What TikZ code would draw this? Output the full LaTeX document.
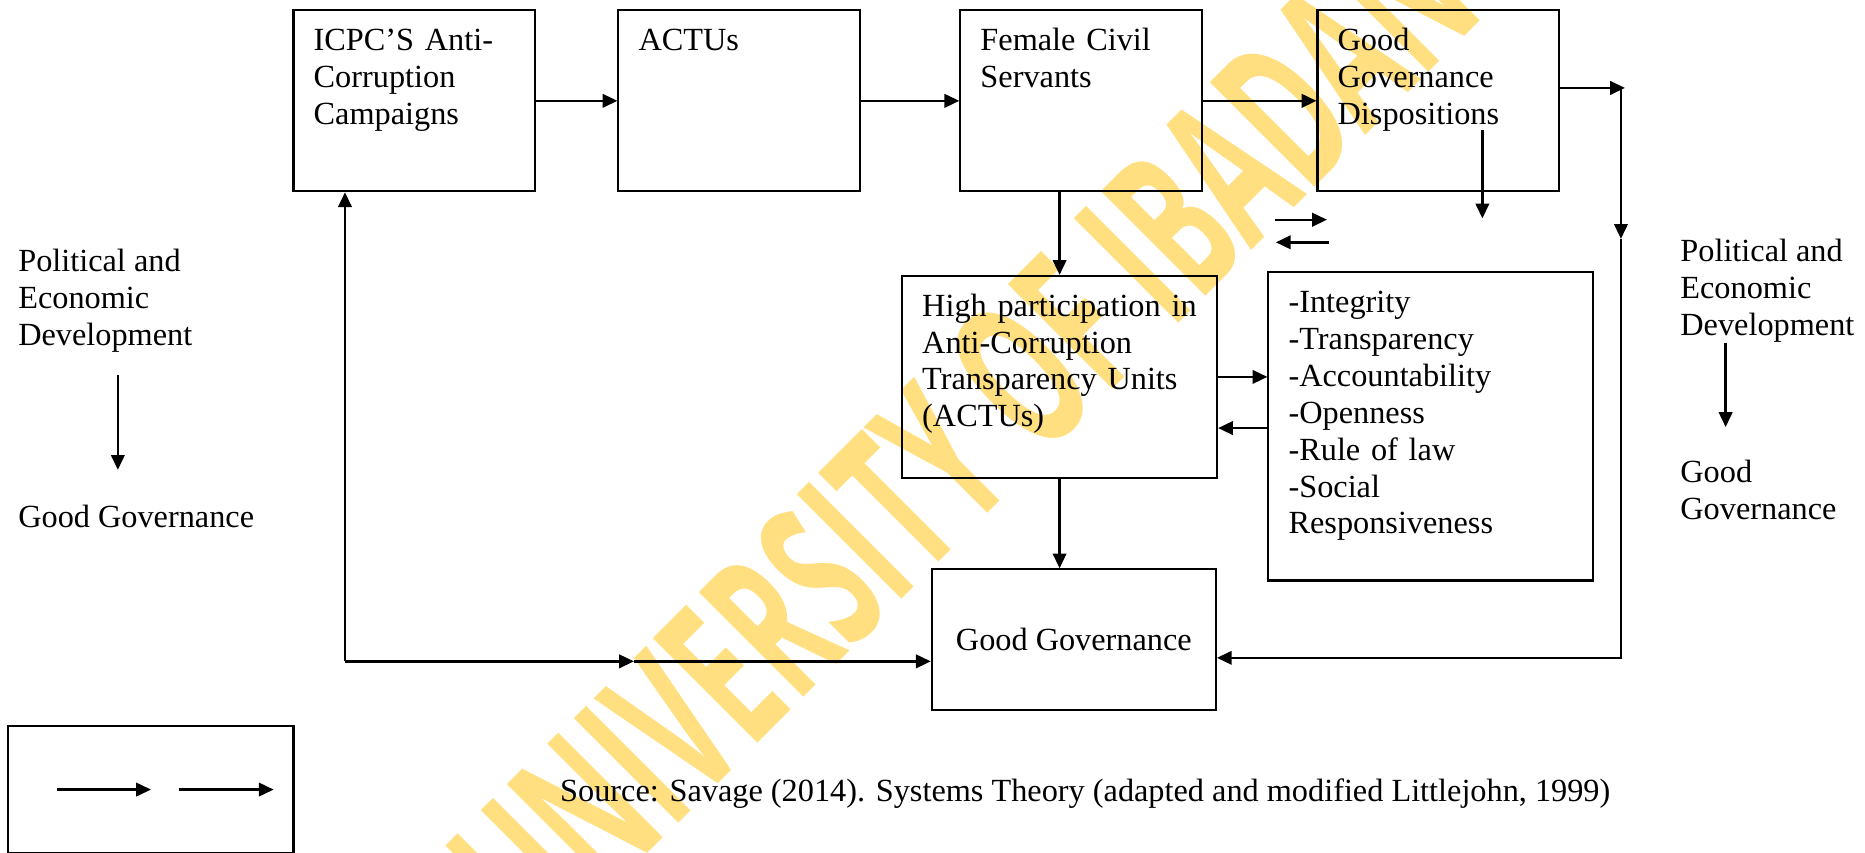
\documentclass[tikz,border=0pt]{standalone}
\usepackage{fontspec}
\setmainfont{Liberation Serif}
\newfontfamily\markfont{Open Sans}
\usepackage{tikz}
\usetikzlibrary{arrows.meta,positioning,calc}
\usepackage{xcolor}
\definecolor{markyellow}{RGB}{255,223,128}

\begin{document}
\begin{tikzpicture}[
    font=\fontsize{12}{13.7}\selectfont,
    node distance=30.2pt,
    box/.style={rectangle, draw, line width=0.75pt, align=left,
                inner xsep=7.5pt, inner ysep=0pt, text height=15pt},
    topbox/.style={box, text width=74.8pt, text depth=52.2pt},
    midbox/.style={rectangle, draw, line width=0.75pt, align=center,
                   minimum width=105.6pt, minimum height=52.4pt, inner sep=0pt},
    legendbox/.style={rectangle, draw, line width=0.75pt,
                      minimum width=106pt, minimum height=47.3pt, inner sep=0pt},
    note/.style={align=left, inner sep=0pt},
    watermark/.style={text=markyellow, inner sep=0pt,
                      font={\markfont\bfseries\fontsize{77pt}{77pt}\selectfont},
                      rotate=45, xscale=0.555},
    arrow/.style={-{Triangle[length=5.5pt,width=5pt]}, line width=0.9pt}
  ]
  \useasboundingbox (0,0) rectangle (693.1pt,-316.9pt);

  % watermark behind everything
  \node[watermark] (mark) at (358pt,-161pt) {UNIVERSITY OF IBADAN};

  \node[topbox, anchor=north west] (icpc) at (108.7pt,-3.5pt) {ICPC’S Anti-\\Corruption\\Campaigns};
  \node[topbox, right=30.2pt of icpc] (actus) {ACTUs};
  \node[topbox, right=36.5pt of actus] (female) {Female Civil\\Servants};
  \node[topbox, right=42.2pt of female] (ggd) {Good\\Governance\\Dispositions};
  \node[box, text width=102.1pt, text depth=60.1pt, below=30.7pt of female, xshift=-8pt] (hp)
    {High participation in\\Anti-Corruption\\Transparency Units\\(ACTUs)};
  \node[box, text width=105.7pt, text depth=99.5pt, right=18.3pt of hp.north east,
        anchor=north west, yshift=1.3pt] (values)
    {-Integrity\\-Transparency\\-Accountability\\-Openness\\-Rule of law\\-Social\\Responsiveness};
  \node[midbox, below=33.2pt of hp, xshift=5.3pt] (gg) {Good Governance};
  \node[legendbox, anchor=north west] (legend) at (2.7pt,-269.4pt) {};

  % side notes (base is the last line)
  \node[note, anchor=base west] (leftpol) at (6.6pt,-128.4pt) {Political and\\Economic\\Development};
  \node[note, anchor=base west] (leftgood) at (6.6pt,-196.2pt) {Good Governance};
  \node[note, anchor=base west] (rightpol) at (624.3pt,-124.6pt) {Political and\\Economic\\Development};
  \node[note, anchor=base west] (rightgood) at (624.3pt,-193.1pt) {Good\\Governance};
  \node[note, anchor=base west] (source) at (208pt,-297.9pt)
    {Source: Savage (2014). Systems Theory (adapted and modified Littlejohn, 1999)};

  % top row
  \draw[arrow] (icpc) -- (actus);
  \draw[arrow] (actus) -- (female);
  \draw[arrow] (female) -- (ggd);
  \draw[arrow] (hp.north |- female.south) -- (hp.north);
  \draw[arrow] (hp.south) -- (hp.south |- gg.north);
  \draw[arrow] (hp.east) -- (hp.east -| values.west);
  \coordinate (back) at ([yshift=-19pt]hp.east);
  \draw[arrow] (back -| values.west) -- (back);

  % arrows under the dispositions box
  \coordinate (dtop) at ([xshift=-28.9pt,yshift=23pt]ggd.south east);
  \coordinate (dbot) at ([xshift=-28.9pt,yshift=-9.7pt]ggd.south east);
  \draw[arrow] (dtop) -- (dbot);
  \coordinate (pa) at ([xshift=-15.5pt,yshift=-10.2pt]ggd.south west);
  \coordinate (pb) at ([xshift=3.9pt,yshift=-10.2pt]ggd.south west);
  \coordinate (pc) at ([xshift=4.8pt,yshift=-18.6pt]ggd.south west);
  \coordinate (pd) at ([xshift=-15.1pt,yshift=-18.6pt]ggd.south west);
  \draw[arrow] (pa) -- (pb);
  \draw[arrow] (pc) -- (pd);

  % feedback on the right
  \coordinate (rtop) at ([xshift=22.6pt,yshift=4.8pt]ggd.east);
  \coordinate (rmid) at ([yshift=-56.1pt]rtop);
  \coordinate (ggin) at ([yshift=-6.7pt]gg.east);
  \coordinate (rbot) at (rtop |- ggin);
  \draw[arrow] ([yshift=4.8pt]ggd.east) -- ([xshift=1.5pt]rtop);
  \draw[arrow] (rtop) -- (rmid);
  \draw[arrow] (rmid) -- (rbot) -- (ggin);

  % feedback on the left
  \coordinate (lx) at ([xshift=19.5pt]icpc.south west);
  \coordinate (ggleft) at ([yshift=-8pt]gg.west);
  \coordinate (lbot) at (lx |- ggleft);
  \coordinate (lmid) at ([xshift=107.4pt]lbot);
  \draw[arrow] (lbot) -- (lx);
  \draw[arrow] (lbot) -- (lmid);
  \draw[arrow] (lmid) -- (ggleft);

  % side arrows
  \coordinate (la) at (43.8pt,-139.2pt);
  \coordinate (lb) at (43.8pt,-174.6pt);
  \draw[arrow] (la) -- (lb);
  \coordinate (ra) at (641.3pt,-127.3pt);
  \coordinate (rb) at (641.3pt,-158.7pt);
  \draw[arrow] (ra) -- (rb);

  % legend
  \draw[arrow] ([xshift=18.5pt]legend.west) -- ([xshift=53.4pt]legend.west);
  \draw[arrow] ([xshift=64pt]legend.west) -- ([xshift=99pt]legend.west);
\end{tikzpicture}
\end{document}
